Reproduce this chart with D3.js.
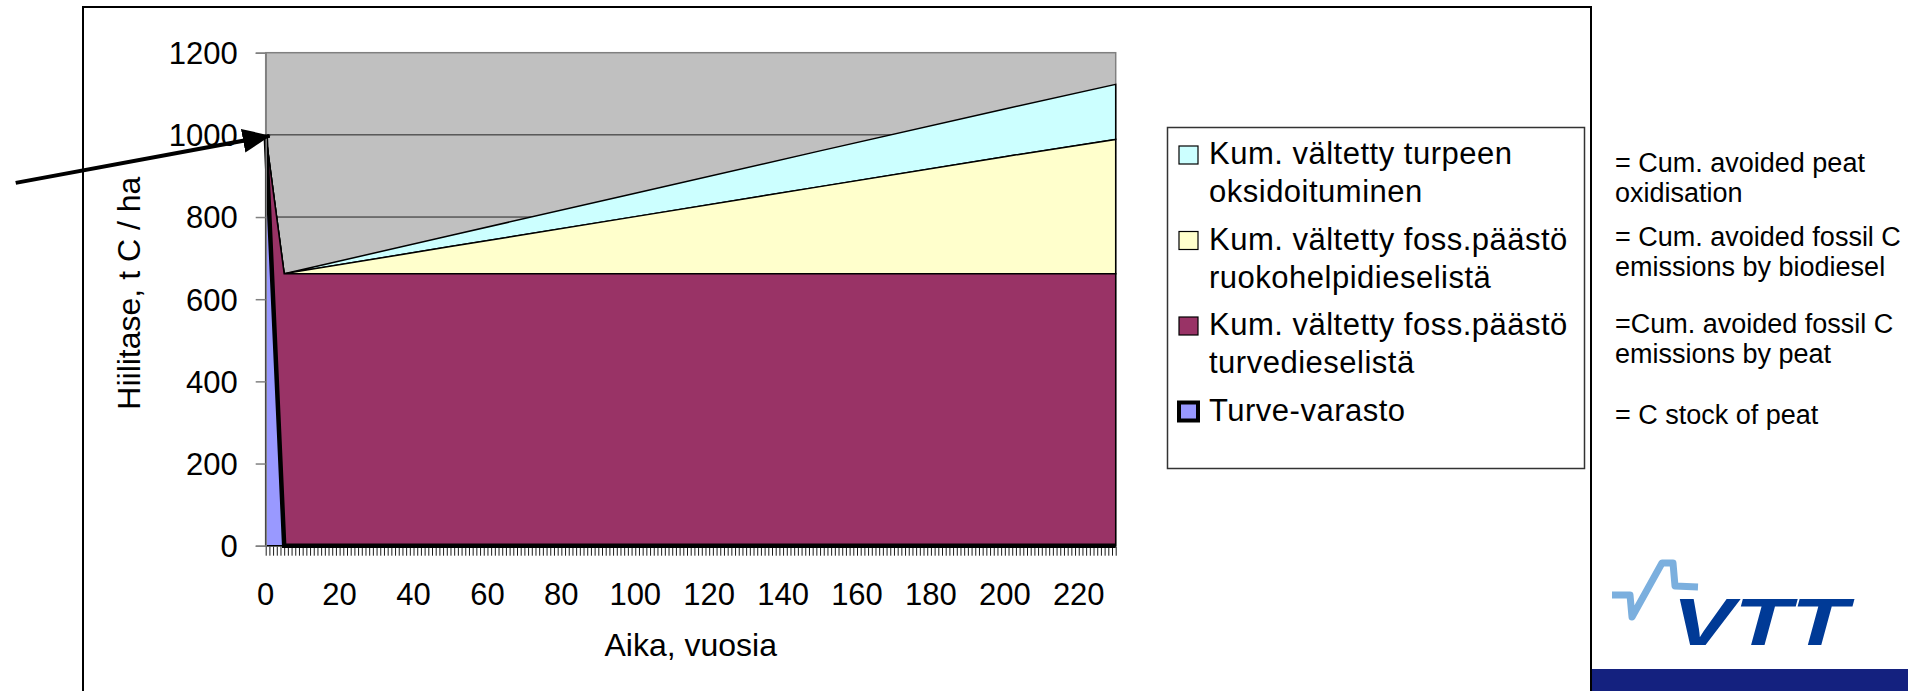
<!DOCTYPE html>
<html>
<head>
<meta charset="utf-8">
<script src="https://cdn.jsdelivr.net/npm/d3@7"></script>
<style>
  body { margin: 0; background: #fff; }
  text { font-family: "Liberation Sans", Arial, sans-serif; fill: #000; }
</style>
</head>
<body>
<div id="chart"></div>
<script>
// data (t C / ha), stacked bottom -> top
var years            = [0, 5, 50, 100, 150, 200, 230];
var turveVarasto     = [1000, 0, 0, 0, 0, 0, 0];
var turvediesel      = [0, 662, 662, 662, 662, 662, 662];
var ruokohelpidiesel = [0, 0, 66, 139, 212, 285, 327];
var oksidoituminen   = [0, 0, 27, 57, 87, 116, 134];

var xTickLabels = [0, 20, 40, 60, 80, 100, 120, 140, 160, 180, 200, 220];
var yTickLabels = [0, 200, 400, 600, 800, 1000, 1200];

var legendLabels = [
    ["Kum. vältetty turpeen", "oksidoituminen"],
    ["Kum. vältetty foss.päästö", "ruokohelpidieselistä"],
    ["Kum. vältetty foss.päästö", "turvedieselistä"],
    ["Turve-varasto"]
];
var englishNotes = [
    ["= Cum. avoided peat", "oxidisation"],
    ["= Cum. avoided fossil C", "emissions by biodiesel"],
    ["=Cum. avoided fossil C", "emissions by peat"],
    ["= C stock of peat"]
];

var keys = ["turve", "diesel", "ruoko", "oksid"];
var colors = { turve: "#9999FF", diesel: "#993366", ruoko: "#FFFFCC", oksid: "#CCFFFF" };

var rows = years.map(function(y, i){
    return { year: y, turve: turveVarasto[i], diesel: turvediesel[i], ruoko: ruokohelpidiesel[i], oksid: oksidoituminen[i] };
});

const W = 1908, H = 691;
const plot = { left: 265.7, right: 1115.7, top: 52.7, bottom: 545.7 };

var svg = d3.select("#chart").append("svg")
    .attr("width", W)
    .attr("height", H);

// outer frame
svg.append("rect")
    .attr("x", 83).attr("y", 7)
    .attr("width", 1508).attr("height", 700)
    .attr("fill", "none")
    .attr("stroke", "#000")
    .attr("stroke-width", 2);

var x = d3.scaleLinear().domain([0, 230]).range([plot.left, plot.right]);
var y = d3.scaleLinear().domain([0, 1200]).range([plot.bottom, plot.top]);

// plot background
svg.append("rect")
    .attr("x", plot.left).attr("y", plot.top)
    .attr("width", plot.right - plot.left).attr("height", plot.bottom - plot.top)
    .attr("fill", "#C0C0C0")
    .attr("stroke", "#808080")
    .attr("stroke-width", 1.5);

// gridlines
svg.append("g").selectAll("line")
    .data(yTickLabels.slice(1, -1))
    .enter().append("line")
    .attr("x1", plot.left).attr("x2", plot.right)
    .attr("y1", function(d){ return y(d) }).attr("y2", function(d){ return y(d) })
    .attr("stroke", "#222")
    .attr("stroke-width", 1);

var stacked = d3.stack().keys(keys)(rows);

var area = d3.area()
    .x(function(d){ return x(d.data.year) })
    .y0(function(d){ return y(d[0]) })
    .y1(function(d){ return y(d[1]) });

svg.append("g").selectAll("path")
    .data(stacked.slice().reverse())
    .enter().append("path")
    .attr("d", area)
    .attr("fill", function(d){ return colors[d.key] })
    .attr("stroke", "#000")
    .attr("stroke-width", 1.5)
    .attr("stroke-linejoin", "miter");

// thick border of the peat stock series
var topLine = d3.line()
    .x(function(d){ return x(d.data.year) })
    .y(function(d){ return y(d[1]) });

svg.append("path")
    .attr("d", topLine(stacked[0]))
    .attr("fill", "none")
    .attr("stroke", "#000")
    .attr("stroke-width", 4.5);

// y axis
var yAxis = svg.append("g")
    .attr("transform", "translate(" + plot.left + ",0)")
    .call(d3.axisLeft(y).tickValues(yTickLabels).tickSize(10).tickPadding(18).tickFormat(d3.format("d")));
yAxis.select(".domain").attr("stroke", "#808080").attr("stroke-width", 1.5);
yAxis.selectAll(".tick line").attr("stroke", "#808080").attr("stroke-width", 1.5);
yAxis.selectAll(".tick text")
    .attr("font-size", 31)
    .attr("font-family", "Liberation Sans, Arial, sans-serif")
    .attr("dy", "0.35em");

// x axis: one tick per year, labels every 20
var xAxis = svg.append("g")
    .attr("transform", "translate(0," + (plot.bottom + 1) + ")")
    .call(d3.axisBottom(x).tickValues(d3.range(0, 231)).tickSize(9).tickFormat(""));
xAxis.select(".domain").remove();
xAxis.selectAll(".tick line").attr("stroke", "#000").attr("stroke-width", 0.9);

svg.append("g").selectAll("text")
    .data(xTickLabels)
    .enter().append("text")
    .attr("x", function(d){ return x(d) })
    .attr("y", 605)
    .attr("text-anchor", "middle")
    .attr("font-size", 31)
    .text(function(d){ return d });

// axis titles
svg.append("text")
    .attr("transform", "translate(140," + ((plot.top + plot.bottom) / 2 - 6) + ") rotate(-90)")
    .attr("text-anchor", "middle")
    .attr("font-size", 32)
    .text("Hiilitase, t C / ha");

svg.append("text")
    .attr("x", (plot.left + plot.right) / 2)
    .attr("y", 656)
    .attr("text-anchor", "middle")
    .attr("font-size", 32)
    .text("Aika, vuosia");

// arrow pointing at the start value
var defs = svg.append("defs");
defs.append("marker")
    .attr("id", "head")
    .attr("markerUnits", "userSpaceOnUse")
    .attr("viewBox", "0 0 28 24")
    .attr("refX", 27).attr("refY", 12)
    .attr("markerWidth", 28).attr("markerHeight", 24)
    .attr("orient", "auto")
    .append("path")
    .attr("d", "M0,0 L28,12 L0,24 Z")
    .attr("fill", "#000");

var tip = [x(0) + 4, y(1000) + 1];
svg.append("line")
    .attr("x1", tip[0] - 254).attr("y1", tip[1] + 47)
    .attr("x2", tip[0]).attr("y2", tip[1])
    .attr("stroke", "#000")
    .attr("stroke-width", 4)
    .attr("marker-end", "url(#head)");

// legend
var legend = svg.append("g");
legend.append("rect")
    .attr("x", 1167.5).attr("y", 127.5)
    .attr("width", 417).attr("height", 341)
    .attr("fill", "#fff")
    .attr("stroke", "#333")
    .attr("stroke-width", 1.5);

var legendKeys = ["oksid", "ruoko", "diesel", "turve"];
var item = legend.selectAll(".item")
    .data(legendLabels)
    .enter().append("g")
    .attr("class", "item")
    .attr("transform", function(d, i){ return "translate(0," + (164 + i * 85.5) + ")" });

item.append("rect")
    .attr("x", 1179).attr("y", -18)
    .attr("width", 19).attr("height", 18)
    .attr("fill", function(d, i){ return colors[legendKeys[i]] })
    .attr("stroke", "#000")
    .attr("stroke-width", function(d, i){ return i === 3 ? 4 : 1.2 });

item.selectAll("text")
    .data(function(d){ return d })
    .enter().append("text")
    .attr("x", 1209)
    .attr("y", function(d, j){ return j * 38 })
    .attr("font-size", 31)
    .attr("letter-spacing", 0.5)
    .text(function(d){ return d });

// english translations
var notes = svg.append("g").selectAll("g")
    .data(englishNotes)
    .enter().append("g")
    .attr("transform", function(d, i){ return "translate(1615," + [172, 246, 333, 424][i] + ")" });

notes.selectAll("text")
    .data(function(d){ return d })
    .enter().append("text")
    .attr("x", 0)
    .attr("y", function(d, j){ return j * 29.5 })
    .attr("font-size", 27)
    .text(function(d){ return d });

// VTT logo + footer bar
svg.append("rect")
    .attr("x", 1592).attr("y", 669)
    .attr("width", W - 1592).attr("height", 22)
    .attr("fill", "#14217F");

svg.append("polyline")
    .attr("points", "1612,595 1630,595 1632,617 1662,563 1673,563 1675,586 1698,587")
    .attr("fill", "none")
    .attr("stroke", "#7BAFDE")
    .attr("stroke-width", 7)
    .attr("stroke-linejoin", "round");

svg.append("text")
    .attr("x", 1672).attr("y", 645)
    .attr("font-family", "DejaVu Sans, sans-serif")
    .attr("font-size", 66)
    .attr("font-weight", 900)
    .attr("font-style", "italic")
    .attr("textLength", 176)
    .attr("lengthAdjust", "spacingAndGlyphs")
    .style("fill", "#003A96")
    .text("VTT");
</script>
</body>
</html>
